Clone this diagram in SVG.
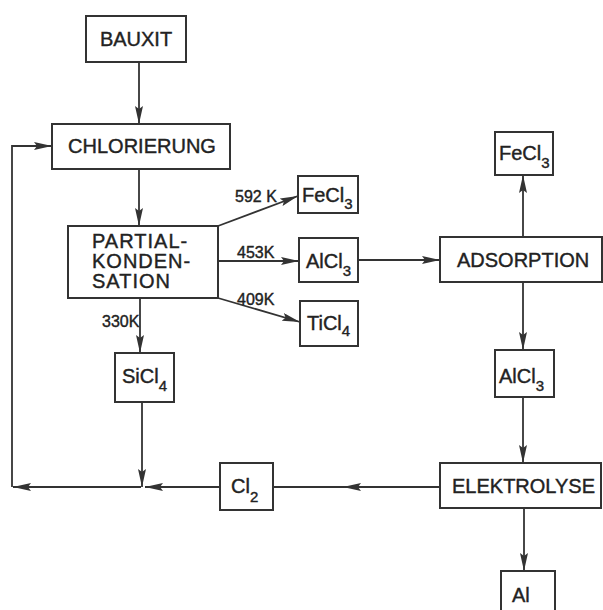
<svg xmlns="http://www.w3.org/2000/svg" width="603" height="610" viewBox="0 0 603 610">
<defs>
<marker id="ah" viewBox="0 0 18 8" refX="18" refY="4" markerWidth="18" markerHeight="8" markerUnits="userSpaceOnUse" orient="auto">
<path d="M0,0 L18,4 L0,8 L3,4 z" fill="#333"/>
</marker>
</defs>
<style>
rect{fill:#fff;stroke:#333;stroke-width:2}
text{font-family:"Liberation Sans",Arial,sans-serif;font-size:20px;fill:#222;stroke:#222;stroke-width:0.4}
.lbl{font-size:16px}
.sub{font-size:15px}
#connectors path{fill:none;stroke:#333;stroke-width:1.8}
</style>
<rect x="0" y="0" width="603" height="610" style="fill:#fff;stroke:none"/>
<g id="connectors">
<path d="M139,62 L139,124" marker-end="url(#ah)"/>
<path d="M141,487 L13,487" marker-end="url(#ah)"/>
<path d="M12,487 L12,146 L52,146" marker-end="url(#ah)"/>
<path d="M139,169 L139,226" marker-end="url(#ah)"/>
<path d="M218,226 L298,196" marker-end="url(#ah)"/>
<path d="M218,261 L299,261" marker-end="url(#ah)"/>
<path d="M218,298 L300,322" marker-end="url(#ah)"/>
<path d="M140,298 L140,353" marker-end="url(#ah)"/>
<path d="M142,402 L142,487" marker-end="url(#ah)"/>
<path d="M220,487 L145,487" marker-end="url(#ah)"/>
<path d="M440,487 L343,487" marker-end="url(#ah)"/>
<path d="M343,487 L273,487"/>
<path d="M358,260 L440,260" marker-end="url(#ah)"/>
<path d="M523,237 L523,175" marker-end="url(#ah)"/>
<path d="M523,282 L523,350" marker-end="url(#ah)"/>
<path d="M523,397 L523,463" marker-end="url(#ah)"/>
<path d="M524,508 L524,571" marker-end="url(#ah)"/>
<text class="lbl" x="235" y="202">592 K</text>
<text class="lbl" x="237" y="258">453K</text>
<text class="lbl" x="237" y="305">409K</text>
<text class="lbl" x="102" y="327">330K</text>
</g>
<g id="bauxit"><rect x="86" y="16" width="100" height="46"/><text x="136" y="46" text-anchor="middle">BAUXIT</text></g>
<g id="chlorierung"><rect x="52" y="124" width="178" height="45"/><text x="142" y="153" text-anchor="middle">CHLORIERUNG</text></g>
<g id="partial"><rect x="68" y="226" width="150" height="72"/><text x="92" y="248" letter-spacing="1">PARTIAL-</text><text x="92" y="268" letter-spacing="1">KONDEN-</text><text x="92" y="288" letter-spacing="1">SATION</text></g>
<g id="fecl3a"><rect x="298" y="176" width="60" height="37"/><text x="302" y="202">FeCl<tspan class="sub" dy="7">3</tspan></text></g>
<g id="alcl3a"><rect x="299" y="238" width="59" height="44"/><text x="306" y="268">AlCl<tspan class="sub" dy="8">3</tspan></text></g>
<g id="ticl4"><rect x="300" y="301" width="58" height="45"/><text x="307" y="330">TiCl<tspan class="sub" dy="6">4</tspan></text></g>
<g id="sicl4"><rect x="115" y="353" width="59" height="49"/><text x="122" y="383">SiCl<tspan class="sub" dy="8">4</tspan></text></g>
<g id="fecl3b"><rect x="495" y="132" width="58" height="43"/><text x="499" y="160">FeCl<tspan class="sub" dy="8">3</tspan></text></g>
<g id="adsorption"><rect x="440" y="237" width="162" height="45"/><text x="457" y="267">ADSORPTION</text></g>
<g id="alcl3b"><rect x="495" y="350" width="59" height="47"/><text x="499" y="383">AlCl<tspan class="sub" dy="8">3</tspan></text></g>
<g id="elektrolyse"><rect x="440" y="463" width="161" height="45"/><text x="452" y="493">ELEKTROLYSE</text></g>
<g id="cl2"><rect x="220" y="463" width="53" height="47"/><text x="231" y="493">Cl<tspan class="sub" dy="9">2</tspan></text></g>
<g id="al"><rect x="501" y="571" width="54" height="45"/><text x="512" y="602">Al</text></g>
</svg>
